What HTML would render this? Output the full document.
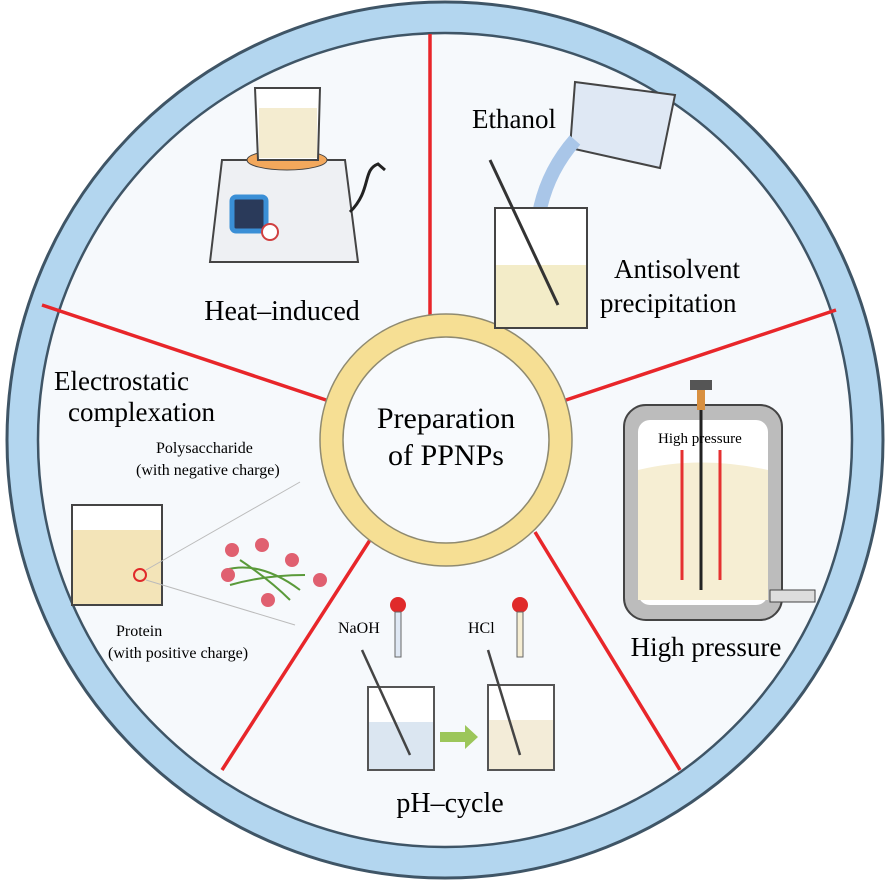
<!DOCTYPE html>
<html><head><meta charset="utf-8"><style>
html,body{margin:0;padding:0;background:#fff;}
svg{display:block;font-family:"Liberation Serif",serif;}
</style></head><body>
<svg width="888" height="880" viewBox="0 0 888 880" xmlns="http://www.w3.org/2000/svg">
<circle cx="445" cy="440" r="438" fill="#b3d6ef" stroke="#3f5566" stroke-width="3"/>
<circle cx="445" cy="440" r="407" fill="#f6f9fc" stroke="#3f5566" stroke-width="2.5"/>
<g stroke="#e8262a" stroke-width="3.5">
<line x1="430" y1="34" x2="430" y2="316"/>
<line x1="566" y1="400" x2="836" y2="310"/>
<line x1="535" y1="532" x2="680" y2="770"/>
<line x1="370" y1="540" x2="222" y2="770"/>
<line x1="326" y1="400" x2="42" y2="305"/>
</g>
<circle cx="446" cy="440" r="114" fill="none" stroke="#f6df94" stroke-width="23"/>
<circle cx="446" cy="440" r="126" fill="none" stroke="#8f8a70" stroke-width="1.5"/>
<circle cx="446" cy="440" r="103" fill="#f8fafd" stroke="#8f8a70" stroke-width="1.5"/>
<text x="446" y="428" font-size="30" text-anchor="middle">Preparation</text>
<text x="446" y="465" font-size="30" text-anchor="middle">of PPNPs</text>

<!-- Heat-induced -->
<path d="M222 160 L345 160 L358 262 L210 262 Z" fill="#eef0f3" stroke="#444" stroke-width="2"/>
<rect x="232" y="197" width="34" height="34" rx="4" fill="#2a3a5a" stroke="#3a8fd6" stroke-width="5"/>
<circle cx="270" cy="232" r="8" fill="#fff" stroke="#d04040" stroke-width="2"/>
<path d="M350 212 C372 190 362 170 378 164 L385 170" fill="none" stroke="#222" stroke-width="3"/>
<ellipse cx="287" cy="160" rx="40" ry="10" fill="#f3a85c" stroke="#444"/>
<path d="M255 88 L320 88 L318 160 L258 160 Z" fill="#fff" stroke="#444" stroke-width="2"/>
<rect x="259" y="108" width="58" height="50" fill="#f4ecd0"/>
<text x="282" y="320" font-size="28" text-anchor="middle">Heat–induced</text>

<!-- Antisolvent -->
<text x="472" y="128" font-size="27">Ethanol</text>
<path d="M575 82 L675 95 L660 168 L570 148 Z" fill="#dfe8f4" stroke="#444" stroke-width="2"/>
<path d="M575 140 C540 180 530 230 540 280" fill="none" stroke="#a9c6e8" stroke-width="14"/>
<rect x="495" y="208" width="92" height="120" fill="#fff" stroke="#444" stroke-width="2"/>
<rect x="496" y="265" width="90" height="62" fill="#f3ecc8"/>
<line x1="490" y1="160" x2="558" y2="305" stroke="#333" stroke-width="3"/>
<text x="614" y="278" font-size="27">Antisolvent</text>
<text x="600" y="312" font-size="27">precipitation</text>

<!-- High pressure -->
<rect x="624" y="405" width="158" height="215" rx="22" fill="#bcbcbc" stroke="#444" stroke-width="2"/>
<rect x="638" y="420" width="130" height="185" rx="12" fill="#fff"/>
<path d="M638 470 Q700 455 768 470 L768 600 L638 600 Z" fill="#f6eed3"/>
<rect x="690" y="380" width="22" height="10" fill="#555"/>
<rect x="697" y="390" width="8" height="20" fill="#d89040"/>
<line x1="701" y1="410" x2="701" y2="590" stroke="#222" stroke-width="3"/>
<path d="M682 450 L682 580 M720 450 L720 580" stroke="#e53030" stroke-width="3" fill="none"/>
<text x="658" y="443" font-size="15">High pressure</text>
<rect x="770" y="590" width="45" height="12" fill="#ddd" stroke="#444"/>
<text x="706" y="656" font-size="27" text-anchor="middle">High pressure</text>

<!-- pH-cycle -->
<text x="338" y="633" font-size="16">NaOH</text>
<text x="468" y="633" font-size="16">HCl</text>
<circle cx="398" cy="605" r="8" fill="#e02a2a"/>
<rect x="395" y="612" width="6" height="45" fill="#dfe8f4" stroke="#666"/>
<circle cx="520" cy="605" r="8" fill="#e02a2a"/>
<rect x="517" y="612" width="6" height="45" fill="#f6eed3" stroke="#666"/>
<rect x="368" y="687" width="66" height="83" fill="#fff" stroke="#555" stroke-width="2"/>
<rect x="369" y="722" width="64" height="47" fill="#dbe6f1"/>
<line x1="362" y1="650" x2="410" y2="755" stroke="#444" stroke-width="2.5"/>
<rect x="488" y="685" width="66" height="85" fill="#fff" stroke="#555" stroke-width="2"/>
<rect x="489" y="720" width="64" height="49" fill="#f3ecd8"/>
<line x1="488" y1="650" x2="520" y2="755" stroke="#444" stroke-width="2.5"/>
<path d="M440 732 L465 732 L465 725 L478 737 L465 749 L465 742 L440 742 Z" fill="#9cc65a"/>
<text x="450" y="812" font-size="28" text-anchor="middle">pH–cycle</text>

<!-- Electrostatic -->
<text x="54" y="390" font-size="27">Electrostatic</text>
<text x="68" y="421" font-size="27">complexation</text>
<text x="156" y="453" font-size="16">Polysaccharide</text>
<text x="136" y="475" font-size="16">(with negative charge)</text>
<rect x="72" y="505" width="90" height="100" fill="#fff" stroke="#444" stroke-width="2"/>
<rect x="73" y="530" width="88" height="74" fill="#f3e4b8"/>
<circle cx="140" cy="575" r="6" fill="none" stroke="#e02a2a" stroke-width="2"/>
<line x1="146" y1="570" x2="300" y2="482" stroke="#bbb"/>
<line x1="146" y1="580" x2="295" y2="625" stroke="#bbb"/>
<g stroke="#5a9a3a" stroke-width="2" fill="none">
<path d="M225 570 Q260 560 300 590"/><path d="M230 585 Q265 575 305 575"/><path d="M240 560 Q270 580 290 600"/>
</g>
<g fill="#e06070"><circle cx="232" cy="550" r="7"/><circle cx="262" cy="545" r="7"/><circle cx="228" cy="575" r="7"/><circle cx="268" cy="600" r="7"/><circle cx="320" cy="580" r="7"/><circle cx="292" cy="560" r="7"/></g>
<text x="116" y="636" font-size="16">Protein</text>
<text x="108" y="658" font-size="16">(with positive charge)</text>
</svg>
</body></html>
